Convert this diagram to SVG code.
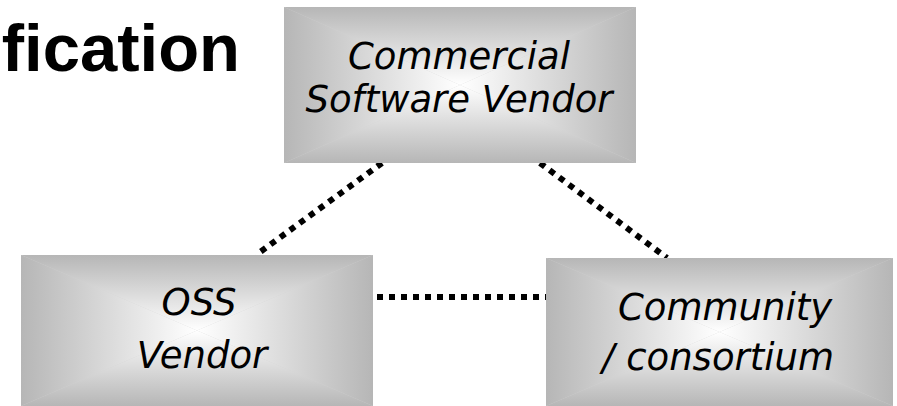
<svg xmlns="http://www.w3.org/2000/svg" width="897" height="406" viewBox="0 0 897 406">
  <defs>
    <!-- four edge-to-centre ramps that together form a rectangular "from centre" fill -->
    <linearGradient id="gTop" x1="0" y1="0" x2="0" y2="1">
      <stop offset="0" stop-color="#b6b6b6"/>
      <stop offset="0.55" stop-color="#dedede"/>
      <stop offset="1" stop-color="#ffffff"/>
    </linearGradient>
    <linearGradient id="gBottom" x1="0" y1="1" x2="0" y2="0">
      <stop offset="0" stop-color="#b6b6b6"/>
      <stop offset="0.55" stop-color="#dedede"/>
      <stop offset="1" stop-color="#ffffff"/>
    </linearGradient>
    <linearGradient id="gLeft" x1="0" y1="0" x2="1" y2="0">
      <stop offset="0" stop-color="#b6b6b6"/>
      <stop offset="0.55" stop-color="#dedede"/>
      <stop offset="1" stop-color="#ffffff"/>
    </linearGradient>
    <linearGradient id="gRight" x1="1" y1="0" x2="0" y2="0">
      <stop offset="0" stop-color="#b6b6b6"/>
      <stop offset="0.55" stop-color="#dedede"/>
      <stop offset="1" stop-color="#ffffff"/>
    </linearGradient>
  </defs>
  <style>
    .title { font-family: "Liberation Sans", Arial, sans-serif; font-weight: bold; font-size: 67px; fill: #000; }
    .label { font-family: "DejaVu Sans", Verdana, sans-serif; font-style: italic; font-size: 37px; fill: #000; text-anchor: middle; }
    .base { fill: #d2d2d2; }
    .t { fill: url(#gTop); }
    .b { fill: url(#gBottom); }
    .l { fill: url(#gLeft); }
    .r { fill: url(#gRight); }
    .link { stroke: #000; stroke-width: 6; stroke-dasharray: 6 6; fill: none; }
  </style>

  <rect width="897" height="406" fill="#ffffff"/>

  <text class="title" x="240" y="71" text-anchor="end">fication</text>

  <g id="connectors">
    <line class="link" x1="382" y1="163" x2="256" y2="255"/>
    <line class="link" x1="540" y1="163" x2="667" y2="258"/>
    <line class="link" x1="377" y1="297" x2="546" y2="297"/>
  </g>

  <g id="commercial-vendor">
    <rect class="base" x="284" y="7" width="352" height="156"/>
    <polygon class="t" points="284,7 636,7 460,85"/>
    <polygon class="b" points="284,163 636,163 460,85"/>
    <polygon class="l" points="284,7 284,163 460,85"/>
    <polygon class="r" points="636,7 636,163 460,85"/>
    <text class="label" x="459" y="69">Commercial</text>
    <text class="label" x="459" y="112">Software Vendor</text>
  </g>

  <g id="oss-vendor">
    <rect class="base" x="21" y="255" width="352" height="151"/>
    <polygon class="t" points="21,255 373,255 197,330.5"/>
    <polygon class="b" points="21,406 373,406 197,330.5"/>
    <polygon class="l" points="21,255 21,406 197,330.5"/>
    <polygon class="r" points="373,255 373,406 197,330.5"/>
    <text class="label" x="199" y="315">OSS</text>
    <text class="label" x="202" y="368">Vendor</text>
  </g>

  <g id="community-consortium">
    <rect class="base" x="546" y="258" width="347" height="148"/>
    <polygon class="t" points="546,258 893,258 719.5,332"/>
    <polygon class="b" points="546,406 893,406 719.5,332"/>
    <polygon class="l" points="546,258 546,406 719.5,332"/>
    <polygon class="r" points="893,258 893,406 719.5,332"/>
    <text class="label" x="725" y="320">Community</text>
    <text class="label" x="718" y="370">/ consortium</text>
  </g>
</svg>
